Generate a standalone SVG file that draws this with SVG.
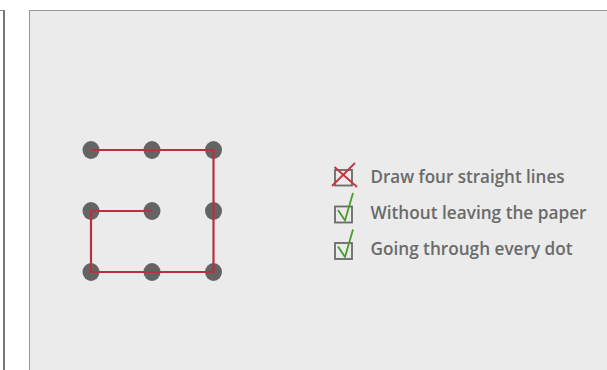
<svg xmlns="http://www.w3.org/2000/svg" width="607" height="370" viewBox="0 0 607 370">
<style>
.dot{fill:#646464}
.lbl{font-family:"Open Sans","Liberation Sans",sans-serif;font-weight:600;font-size:18px;fill:#6a6a6a}
.box{fill:none;stroke:#6a6a6a;stroke-width:1.8}
.chk{fill:none;stroke:#4a9a2a;stroke-width:1.8}
</style>
<rect width="607" height="370" fill="#ffffff"/>
<line x1="4" y1="10" x2="4" y2="370" stroke="#555" stroke-width="1.6"/>
<line x1="0" y1="10.5" x2="4" y2="10.5" stroke="#888" stroke-width="1"/>
<rect x="29.5" y="10.5" width="600" height="380" fill="#ebebeb" stroke="#999" stroke-width="1"/>
<g id="dots">
<ellipse class="dot" cx="91" cy="150" rx="8.5" ry="9"/>
<ellipse class="dot" cx="152" cy="150" rx="8.5" ry="9"/>
<ellipse class="dot" cx="213.5" cy="150" rx="8.5" ry="9"/>
<ellipse class="dot" cx="91" cy="211" rx="8.5" ry="9"/>
<ellipse class="dot" cx="152" cy="211" rx="8.5" ry="9"/>
<ellipse class="dot" cx="213.5" cy="211" rx="8.5" ry="9"/>
<ellipse class="dot" cx="91" cy="272" rx="8.5" ry="9"/>
<ellipse class="dot" cx="152" cy="272" rx="8.5" ry="9"/>
<ellipse class="dot" cx="213.5" cy="272" rx="8.5" ry="9"/>
</g>
<g id="connectors">
<path d="M91 150 H213.5 V272 H91 V211 H152" fill="none" stroke="#b7323e" stroke-width="2.2" stroke-linejoin="miter"/>
</g>
<g id="item1">
<rect class="box" x="335" y="170" width="17" height="15.5"/>
<line x1="332" y1="186" x2="355" y2="163" stroke="#c8323e" stroke-width="1.8"/>
<line x1="334.5" y1="167" x2="357" y2="187" stroke="#c8323e" stroke-width="1.8"/>
<text class="lbl" x="370.5" y="183" textLength="194" lengthAdjust="spacingAndGlyphs">Draw four straight lines</text>
</g>
<g id="item2">
<rect class="box" x="335" y="206.5" width="17" height="16"/>
<path class="chk" d="M338 210 L345 220.5 L353 193"/>
<text class="lbl" x="370.5" y="219" textLength="216" lengthAdjust="spacingAndGlyphs">Without leaving the paper</text>
</g>
<g id="item3">
<rect class="box" x="335" y="243" width="17" height="16"/>
<path class="chk" d="M338 246.5 L345 257 L353 229.5"/>
<text class="lbl" x="370.5" y="255" textLength="202" lengthAdjust="spacingAndGlyphs">Going through every dot</text>
</g>
</svg>
